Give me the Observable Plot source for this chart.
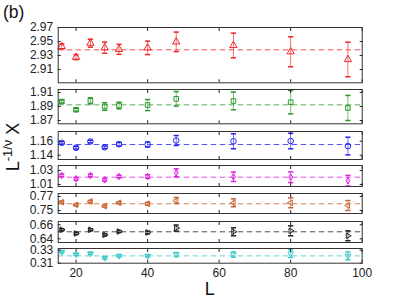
<!DOCTYPE html>
<html><head><meta charset="utf-8">
<script src="https://cdn.jsdelivr.net/npm/d3@7"></script>
<script src="https://cdn.jsdelivr.net/npm/@observablehq/plot@0.6"></script>
<style>
html,body{margin:0;padding:0;background:#fff;}
#chart{position:relative;width:399px;height:299px;overflow:hidden;font-family:"Liberation Sans",Arial,sans-serif;}
#chart > svg{position:absolute;left:0;}
</style></head><body><div id="chart"></div>
<script>
// ---- data ----
const L = [16, 20, 24, 28, 32, 40, 48, 64, 80, 96];
const xTicks = [20, 40, 60, 80, 100];

const redValues  = [2.9429, 2.9276, 2.9476, 2.9411, 2.9388, 2.9409, 2.9495, 2.9443, 2.9353, 2.9243];
const redErrors  = [0.0035, 0.0035, 0.0057, 0.0079, 0.0071, 0.0096, 0.0139, 0.0176, 0.0214, 0.0247];
const redFit = 2.9381;
const redTicks = [2.91, 2.93, 2.95, 2.97];
const redDomain = [2.891, 2.97];

const greenValues = [1.8971, 1.8853, 1.8981, 1.8900, 1.8914, 1.8921, 1.9009, 1.8979, 1.8962, 1.8879];
const greenErrors = [0.0020, 0.0020, 0.0043, 0.0054, 0.0047, 0.0079, 0.0104, 0.0126, 0.0167, 0.0179];
const greenFit = 1.8924;
const greenTicks = [1.87, 1.89, 1.91];
const greenDomain = [1.8653, 1.9143];

const blueValues = [1.1577, 1.1506, 1.1596, 1.1514, 1.1557, 1.1553, 1.1610, 1.1599, 1.1603, 1.1531];
const blueErrors = [0.0018, 0.0018, 0.0018, 0.0018, 0.0025, 0.0036, 0.0071, 0.0107, 0.0111, 0.0126];
const blueFit = 1.1553;
const blueTicks = [1.14, 1.16];
const blueDomain = [1.1339, 1.1739];

const magentaValues = [1.0229, 1.0181, 1.0229, 1.0167, 1.0214, 1.0214, 1.0267, 1.0210, 1.0204, 1.0153];
const magentaErrors = [0.0018, 0.0018, 0.0018, 0.0018, 0.0018, 0.0025, 0.0057, 0.0067, 0.0076, 0.0076];
const magentaFit = 1.0204;
const magentaTicks = [1.01, 1.03];
const magentaDomain = [1.0071, 1.0371];

const brownValues = [0.7619, 0.7581, 0.7629, 0.7561, 0.7610, 0.7596, 0.7643, 0.7610, 0.7610, 0.7571];
const brownErrors = [0.0015, 0.0015, 0.0015, 0.0015, 0.0015, 0.0020, 0.0043, 0.0057, 0.0071, 0.0071];
const brownFit = 0.7596;
const brownTicks = [0.75, 0.77];
const brownDomain = [0.7457, 0.7743];

const blackValues = [0.6529, 0.6476, 0.6529, 0.6457, 0.6504, 0.6490, 0.6553, 0.6500, 0.6514, 0.6443];
const blackErrors = [0.0015, 0.0015, 0.0015, 0.0015, 0.0015, 0.0020, 0.0043, 0.0057, 0.0071, 0.0071];
const blackFit = 0.6500;
const blackTicks = [0.64, 0.66];
const blackDomain = [0.6347, 0.6647];

const cyanValues = [0.3273, 0.3233, 0.3248, 0.3181, 0.3212, 0.3212, 0.3233, 0.3233, 0.3248, 0.3212];
const cyanErrors = [0.0015, 0.0015, 0.0015, 0.0015, 0.0015, 0.0015, 0.0030, 0.0040, 0.0060, 0.0060];
const cyanFit = 0.3212;
const cyanTicks = [0.31, 0.33];
const cyanDomain = [0.31, 0.3325];

// ---- styling / layout ----
const panels = [
  {values: redValues, errors: redErrors, fit: redFit, ticks: redTicks, domain: redDomain, color: "#f02525", symbol: "triangle", rotate: 0, r: 2.7},
  {values: greenValues, errors: greenErrors, fit: greenFit, ticks: greenTicks, domain: greenDomain, color: "#2a9a2a", symbol: "square", rotate: 0, r: 2.6},
  {values: blueValues, errors: blueErrors, fit: blueFit, ticks: blueTicks, domain: blueDomain, color: "#2626f0", symbol: "circle", rotate: 0, r: 2.8},
  {values: magentaValues, errors: magentaErrors, fit: magentaFit, ticks: magentaTicks, domain: magentaDomain, color: "#dd22dd", symbol: "diamond", rotate: 0, r: 2.0},
  {values: brownValues, errors: brownErrors, fit: brownFit, ticks: brownTicks, domain: brownDomain, color: "#c8642e", symbol: "triangle", rotate: -90, r: 2.1},
  {values: blackValues, errors: blackErrors, fit: blackFit, ticks: blackTicks, domain: blackDomain, color: "#222222", symbol: "triangle", rotate: 90, r: 2.1},
  {values: cyanValues, errors: cyanErrors, fit: cyanFit, ticks: cyanTicks, domain: cyanDomain, color: "#3cc8c8", symbol: "triangle", rotate: 180, r: 2.1}
];
const layout = [[27, 82.3], [89, 123.3], [131, 159], [165, 186], [193.3, 213.3], [220.7, 241.7], [248.3, 263]];
const W = 399, mL = 57.7, mR = 37.3;
const capSymbol = {draw(ctx, size) { const w = Math.sqrt(size / Math.PI); ctx.moveTo(-w, 0); ctx.lineTo(w, 0); }};
const chart = document.getElementById("chart");

panels.forEach((p, i) => {
  const [top, bottom] = layout[i];
  const last = i === panels.length - 1;
  const mt = 4, mb = last ? 24 : 4;
  const data = L.map((l, j) => ({L: l, v: p.values[j], e: p.errors[j]}));
  const svg = Plot.plot({
    width: W, height: (bottom - top) + mt + mb,
    marginLeft: mL, marginRight: mR, marginTop: mt, marginBottom: mb,
    style: {fontSize: "12px", fontFamily: "'Liberation Sans', Arial, sans-serif", background: "transparent", color: "#222", overflow: "visible"},
    x: {domain: [15, 100]},
    y: {domain: p.domain},
    marks: [
      Plot.ruleY([p.fit], {stroke: p.color, strokeDasharray: "5.5,3.5", strokeOpacity: 0.8}),
      Plot.ruleX(data, {x: "L", y1: d => d.v - d.e, y2: d => d.v + d.e, stroke: p.color, strokeOpacity: 0.65}),
      Plot.dot(data, {x: "L", y: d => d.v - d.e, symbol: capSymbol, r: 2.6, stroke: p.color}),
      Plot.dot(data, {x: "L", y: d => d.v + d.e, symbol: capSymbol, r: 2.6, stroke: p.color}),
      Plot.dot(data, {x: "L", y: "v", symbol: p.symbol, rotate: p.rotate, r: p.r, stroke: p.color, strokeWidth: 1}),
      Plot.axisY({anchor: "left", ticks: p.ticks, tickSize: -3, tickPadding: 8, tickFormat: d => d.toFixed(2), label: null}),
      Plot.axisY({anchor: "right", ticks: p.ticks, tickSize: -3, tickFormat: () => "", label: null}),
      Plot.axisX({anchor: "top", ticks: xTicks, tickSize: -3, tickFormat: () => "", label: null}),
      Plot.axisX({anchor: "bottom", ticks: xTicks, tickSize: -3, tickPadding: 8.5, tickFormat: last ? (d => String(d)) : (() => ""), label: null}),
      Plot.frame({stroke: "#333"})
    ]
  });
  svg.style.top = (top - mt) + "px";
  chart.appendChild(svg);
});

// ---- overlay labels ----
const ns = "http://www.w3.org/2000/svg";
const ov = document.createElementNS(ns, "svg");
ov.setAttribute("width", W); ov.setAttribute("height", 299);
ov.style.top = "0px"; ov.style.pointerEvents = "none";
ov.setAttribute("font-family", "'Liberation Sans', Arial, sans-serif");
ov.innerHTML = `
  <text x="3" y="17.5" font-size="17.5" fill="#111">(b)</text>
  <text x="${(mL + W - mR) / 2}" y="294.5" font-size="18" text-anchor="middle" fill="#111">L</text>
  <text transform="translate(19,147) rotate(-90)" font-size="18" text-anchor="middle" fill="#111">L<tspan font-size="13" dy="-7">-1/ν</tspan><tspan dy="7"> X</tspan></text>`;
chart.appendChild(ov);
</script></body></html>
